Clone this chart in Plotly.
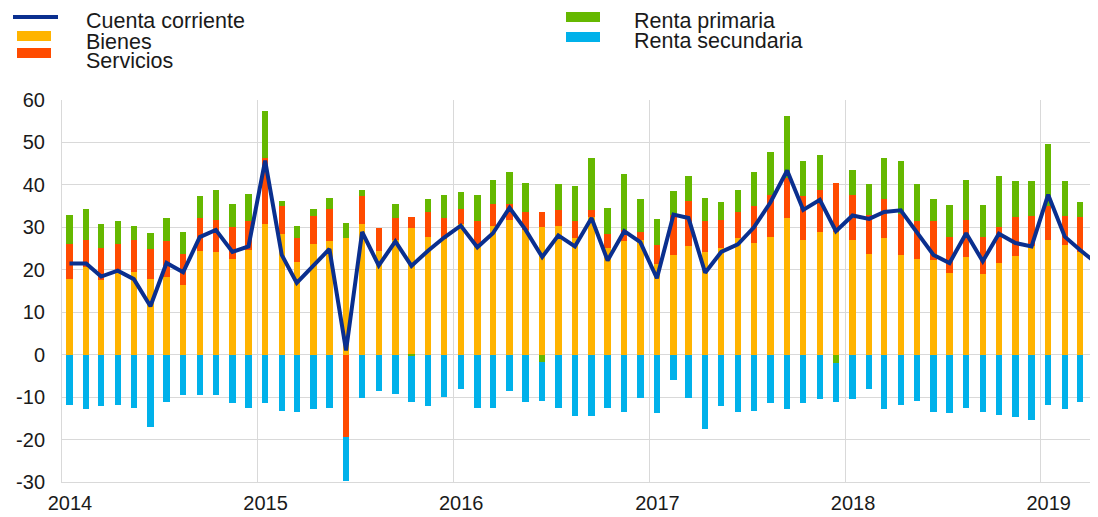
import pandas as pd
import plotly.graph_objects as go

# Balanza por cuenta corriente, mensual 2014-01 .. 2019-04
meses = pd.date_range("2014-01-01", periods=64, freq="MS") + pd.Timedelta(days=14)

bienes = [
    17.9, 20.6, 17.6, 19.5, 19.5, 17.9, 18.2, 16.3, 24.5, 24.2, 22.5, 24.7,
    30.7, 28.4, 21.9, 26.1, 26.7, 27.5, 30.7, 24.5, 27.1, 29.8, 27.8, 27.2,
    30.8, 25.3, 30.2, 31.8, 29.3, 30.1, 30.4, 27.5, 32.5, 25.2, 26.7, 27.1,
    21.4, 23.5, 25.7, 24.2, 25.2, 27.5, 26.4, 27.8, 32.1, 27.1, 28.8, 28.9,
    27.1, 23.8, 27.5, 23.5, 22.5, 22.2, 19.2, 22.9, 18.9, 21.6, 23.2, 25.5,
    27.1, 25.8, 24.2, 20.9,
]
servicios = [
    8.2, 6.5, 7.6, 6.6, 7.6, 6.9, 8.6, 7.5, 7.6, 7.6, 7.6, 6.7,
    15.7, 6.6, 5.6, 6.6, 7.7, -19.4, 6.6, 5.3, 5.2, 2.6, 5.9, 5.0,
    3.6, 6.1, 5.4, 3.6, 4.3, 3.5, 3.7, 3.9, 1.6, 3.3, 2.7, 1.7,
    4.4, 9.5, 10.6, 7.2, 6.6, 6.1, 8.6, 9.8, 9.5, 10.2, 10.1, 11.6,
    10.5, 9.2, 9.1, 9.7, 8.9, 9.2, 8.6, 8.8, 8.9, 8.5, 9.2, 7.2,
    7.9, 6.9, 8.2, 7.6,
]
renta_primaria = [
    6.8, 7.3, 5.5, 5.5, 3.2, 3.9, 5.5, 5.2, 5.2, 6.9, 5.5, 6.5,
    10.9, 1.3, 2.9, 1.7, 2.5, 3.6, 1.6, 0.0, 3.3, -0.3, 2.9, 5.4,
    3.9, 6.2, 5.6, 7.7, 6.9, -1.7, 6.1, 8.4, 12.3, 6.1, 13.1, 7.8,
    6.2, 5.6, 5.8, 5.5, 4.1, 5.3, 8.1, 10.1, 14.6, 8.4, 8.2, -2.0,
    5.9, 7.2, 9.8, 12.5, 8.8, 5.2, 7.5, 9.5, 7.5, 12.0, 8.5, 8.2,
    14.6, 8.2, 3.5, 4.1,
]
renta_secundaria = [
    -11.8, -12.9, -12.2, -11.8, -12.5, -17.1, -11.2, -9.6, -9.6, -9.6, -11.3, -12.5,
    -11.5, -13.2, -13.5, -12.9, -12.5, -10.4, -10.1, -8.5, -9.2, -10.9, -12.2, -9.9,
    -8.2, -12.5, -12.5, -8.5, -11.2, -9.1, -12.5, -14.4, -14.4, -12.5, -13.5, -10.2,
    -13.8, -5.9, -10.1, -17.4, -12.2, -13.5, -13.2, -11.5, -12.9, -11.5, -10.5, -9.2,
    -10.5, -8.2, -12.9, -11.8, -10.8, -13.5, -13.8, -12.5, -13.5, -14.1, -14.8, -15.5,
    -11.8, -12.9, -11.2, -11.8,
]
cuenta_corriente = [
    21.5, 21.5, 18.4, 19.8, 17.8, 11.4, 21.6, 19.4, 27.7, 29.4, 24.2, 25.5,
    45.7, 23.5, 16.9, 20.9, 24.9, 1.0, 28.9, 21.0, 26.7, 20.9, 24.5, 27.6,
    30.4, 25.3, 28.6, 34.6, 29.4, 23.0, 28.1, 25.5, 32.2, 22.2, 29.1, 26.5,
    18.0, 33.0, 32.2, 19.3, 24.2, 26.0, 30.0, 35.9, 43.4, 34.1, 36.5, 29.1,
    32.8, 32.0, 33.6, 34.0, 29.0, 23.5, 21.6, 28.6, 22.0, 28.5, 26.3, 25.5,
    37.7, 27.8, 24.7, 21.6,
]

y_ticks = [-30, -20, -10, 0, 10, 20, 30, 40, 50, 60]
y_ticklabels = ["-30", "-20", "-10", "0", "10", "20", "30", "40", "50", "60"]

COLORS = {
    "cuenta": "#0A2F8F",
    "bienes": "#FFB400",
    "servicios": "#FF4B00",
    "primaria": "#65B800",
    "secundaria": "#00B1EA",
    "grid": "#D9D9D9",
    "text": "#1A1A1A",
}
FONT = "Arial, Liberation Sans, sans-serif"

# the page body has an 8px margin, so the figure is drawn 8px in from the corner
PAGE_OFF = 8
W, H = 1098 - PAGE_OFF, 517 - PAGE_OFF
M_L, M_R, M_T, M_B = 62 - PAGE_OFF, 0, 100 - PAGE_OFF, 35
PLOT_W = W - M_L - M_R
PLOT_H = H - M_T - M_B


def px_x(x):
    # page pixel -> paper coordinate
    return (x - PAGE_OFF - M_L) / PLOT_W


def px_y(y):
    return (H - M_B - (y - PAGE_OFF)) / PLOT_H


bar_width = 12 * 86400000

fig = go.Figure()
for name, vals, col in [
    ("Bienes", bienes, COLORS["bienes"]),
    ("Servicios", servicios, COLORS["servicios"]),
    ("Renta primaria", renta_primaria, COLORS["primaria"]),
    ("Renta secundaria", renta_secundaria, COLORS["secundaria"]),
]:
    fig.add_trace(go.Bar(
        x=meses, y=vals, name=name, width=bar_width,
        marker=dict(color=col, line=dict(width=0)),
        showlegend=False,
    ))

fig.add_trace(go.Scatter(
    x=meses, y=cuenta_corriente, name="Cuenta corriente", mode="lines",
    line=dict(color=COLORS["cuenta"], width=4),
    showlegend=False,
))

# leyenda manual (dos columnas)
shapes = []
annotations = []
legend_items = [
    ("Cuenta corriente", COLORS["cuenta"], "line", 13, 17, 85, 21),
    ("Bienes", COLORS["bienes"], "rect", 17, 36, 85, 42),
    ("Servicios", COLORS["servicios"], "rect", 17, 53, 85, 61),
    ("Renta primaria", COLORS["primaria"], "rect", 566, 17, 633, 21),
    ("Renta secundaria", COLORS["secundaria"], "rect", 566, 37, 633, 41),
]
for label, col, kind, sx, sy, tx, ty in legend_items:
    if kind == "line":
        shapes.append(dict(
            type="line", xref="paper", yref="paper",
            x0=px_x(sx), x1=px_x(sx + 45), y0=px_y(sy), y1=px_y(sy),
            line=dict(color=col, width=4),
        ))
    else:
        shapes.append(dict(
            type="rect", xref="paper", yref="paper",
            x0=px_x(sx), x1=px_x(sx + 34), y0=px_y(sy - 5), y1=px_y(sy + 5),
            fillcolor=col, line=dict(width=0),
        ))
    annotations.append(dict(
        text=label, xref="paper", yref="paper",
        x=px_x(tx), y=px_y(ty), xanchor="left", yanchor="middle",
        showarrow=False, borderpad=0,
        font=dict(size=21.5, color=COLORS["text"], family=FONT),
    ))

fig.update_layout(
    width=W, height=H,
    barmode="relative",
    bargap=0,
    plot_bgcolor="white",
    paper_bgcolor="white",
    margin=dict(l=M_L, r=M_R, t=M_T, b=M_B, autoexpand=False),
    font=dict(family=FONT, size=20, color=COLORS["text"]),
    shapes=shapes,
    annotations=annotations,
    xaxis=dict(
        type="date",
        range=["2014-01-01", "2019-04-18"],
        tick0="2014-01-01", dtick="M12", tickformat="%Y",
        showgrid=True, gridcolor=COLORS["grid"], gridwidth=1,
        showline=True, linecolor=COLORS["grid"], linewidth=1,
        ticks="", ticklabelshift=8, ticklabelstandoff=3,
        automargin=False,
        tickfont=dict(size=20, color=COLORS["text"]),
    ),
    yaxis=dict(
        range=[-30, 60], tickvals=y_ticks, ticktext=y_ticklabels,
        showgrid=True, gridcolor=COLORS["grid"], gridwidth=1,
        zeroline=True, zerolinecolor=COLORS["grid"], zerolinewidth=1,
        showline=True, linecolor=COLORS["grid"], linewidth=1,
        ticks="", ticklabelstandoff=12,
        automargin=False,
        tickfont=dict(size=20, color=COLORS["text"]),
    ),
    hovermode="x unified",
)

fig.write_html("out.html")
